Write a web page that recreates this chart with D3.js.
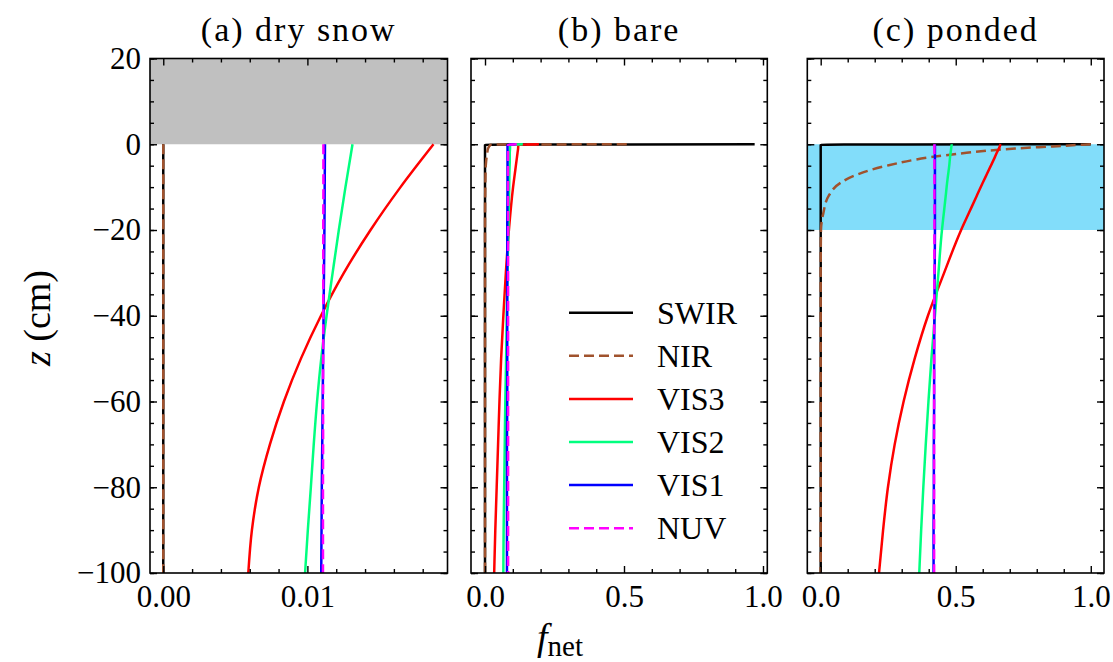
<!DOCTYPE html>
<html>
<head>
<meta charset="utf-8">
<script src="https://cdn.jsdelivr.net/npm/d3@7"></script>
<style>
  body { margin: 0; background: #fff; }
</style>
</head>
<body>
<div id="chart"></div>
<script>
// 1: DATA (depth z in cm, f_net per band)
const bands = ["SWIR", "NIR", "VIS3", "VIS2", "VIS1", "NUV"];

// (a) dry snow
const depthA = [0, -10, -20, -30, -40, -50, -60, -70, -80, -90, -100];
const swirA = [0, 0, 0, 0, 0, 0, 0, 0, 0, 0, 0];
const nirA  = [0, 0, 0, 0, 0, 0, 0, 0, 0, 0, 0];
const vis3A = [0.01875, 0.01646, 0.01438, 0.01253, 0.01094, 0.00955, 0.00837, 0.0074, 0.00663, 0.00615, 0.0059];
const vis2A = [0.01313, 0.01264, 0.01218, 0.01175, 0.01133, 0.01096, 0.01067, 0.01044, 0.01024, 0.01003, 0.00984];
const vis1A = [0.01122, 0.0112, 0.01118, 0.01115, 0.01112, 0.01109, 0.01106, 0.01103, 0.011, 0.01098, 0.01096];
const nuvA  = [0.01111, 0.01111, 0.0111, 0.0111, 0.0111, 0.01109, 0.01109, 0.01109, 0.01108, 0.01108, 0.01108];

// (b) bare
const depthB = [0, -0.1, -1, -2, -4, -6, -10, -20, -30, -40, -50, -60, -70, -80, -90, -100];
const swirB = [0.97, 0, 0, 0, 0, 0, 0, 0, 0, 0, 0, 0, 0, 0, 0, 0];
const nirB  = [0.51, 0.02, 0.011, 0.008, 0.004, 0.002, 0.001, 0, 0, 0, 0, 0, 0, 0, 0, 0];
const vis3B = [0.194, 0.12, 0.119, 0.117, 0.113, 0.109, 0.101, 0.086, 0.075, 0.066, 0.058, 0.052, 0.047, 0.042, 0.037, 0.033];
const vis2B = [0.136, 0.09, 0.09, 0.089, 0.089, 0.088, 0.087, 0.084, 0.081, 0.078, 0.076, 0.073, 0.071, 0.069, 0.067, 0.066];
const vis1B = [0.11, 0.081, 0.081, 0.081, 0.081, 0.081, 0.081, 0.08, 0.08, 0.08, 0.08, 0.08, 0.079, 0.079, 0.079, 0.079];
const nuvB  = [0.114, 0.083, 0.083, 0.083, 0.083, 0.083, 0.083, 0.083, 0.083, 0.083, 0.083, 0.083, 0.083, 0.083, 0.083, 0.083];

// (c) ponded
const depthC = [0, -0.1, -0.5, -1, -2, -3, -5, -7, -9, -12, -16, -20, -30, -40, -50, -60, -70, -80, -90, -100];
const swirC = [1.0, 0, 0, 0, 0, 0, 0, 0, 0, 0, 0, 0, 0, 0, 0, 0, 0, 0, 0, 0];
const nirC  = [1.0, 0.97, 0.86, 0.72, 0.54, 0.41, 0.245, 0.138, 0.073, 0.03, 0.01, 0.001, 0, 0, 0, 0, 0, 0, 0, 0];
const vis3C = [0.667, 0.666, 0.663, 0.66, 0.652, 0.645, 0.63, 0.615, 0.6, 0.578, 0.549, 0.52, 0.457, 0.397, 0.348, 0.307, 0.274, 0.249, 0.231, 0.216];
const vis2C = [0.485, 0.485, 0.484, 0.483, 0.481, 0.479, 0.476, 0.472, 0.468, 0.463, 0.456, 0.449, 0.436, 0.423, 0.41, 0.399, 0.389, 0.38, 0.372, 0.365];
const vis1C = [0.423, 0.423, 0.423, 0.423, 0.423, 0.423, 0.423, 0.423, 0.423, 0.423, 0.423, 0.423, 0.422, 0.421, 0.42, 0.42, 0.419, 0.419, 0.418, 0.418];
const nuvC  = [0.421, 0.421, 0.421, 0.421, 0.421, 0.421, 0.421, 0.421, 0.421, 0.421, 0.421, 0.421, 0.421, 0.42, 0.42, 0.42, 0.42, 0.42, 0.42, 0.42];

// ticks
const yTicks = [20, 0, -20, -40, -60, -80, -100];
const yMinor = d3.range(-100, 21, 5);
const xTicksA = [0, 0.01];
const xTickLabelsA = ["0.00", "0.01"];
const xMinorA = [0.002, 0.004, 0.006, 0.008, 0.012, 0.014, 0.016, 0.018];
const xTicksBC = [0, 0.5, 1.0];
const xTickLabelsBC = ["0.0", "0.5", "1.0"];
const xMinorBC = [0.1, 0.2, 0.3, 0.4, 0.6, 0.7, 0.8, 0.9];

// 2: STYLE
const FONT = '"Liberation Serif", "Times New Roman", serif';
const styles = {
  SWIR: { color: "#000000", dash: null },
  NIR:  { color: "#a0522d", dash: "10,5" },
  VIS3: { color: "#ff0000", dash: null },
  VIS2: { color: "#00ff7f", dash: null },
  VIS1: { color: "#0000ff", dash: null },
  NUV:  { color: "#ff00ff", dash: "10,5" }
};

const W = 1113, H = 662;
const plotTop = 58.5, plotBottom = 573;

const panels = [
  { title: "(a) dry snow", left: 150, right: 447.5, domain: [-0.00092, 0.01972],
    ticks: xTicksA, labels: xTickLabelsA, minor: xMinorA, depth: depthA,
    series: [swirA, nirA, vis3A, vis2A, vis1A, nuvA], fill: { from: 0, to: 20, color: "#c0c0c0" } },
  { title: "(b) bare", left: 471, right: 767.3, domain: [-0.0504, 1.0155],
    ticks: xTicksBC, labels: xTickLabelsBC, minor: xMinorBC, depth: depthB,
    series: [swirB, nirB, vis3B, vis2B, vis1B, nuvB], fill: null },
  { title: "(c) ponded", left: 807.3, right: 1104, domain: [-0.0496, 1.049],
    ticks: xTicksBC, labels: xTickLabelsBC, minor: xMinorBC, depth: depthC,
    series: [swirC, nirC, vis3C, vis2C, vis1C, nuvC], fill: { from: -20, to: 0, color: "#82ddfa" } }
];

const svg = d3.select("#chart").append("svg")
  .attr("width", W).attr("height", H);

const y = d3.scaleLinear().domain([-100, 20]).range([plotBottom, plotTop]);
const fmtY = d => d < 0 ? "\u2212" + Math.abs(d) : String(d);

panels.forEach((p, pi) => {
  const x = d3.scaleLinear().domain(p.domain).range([p.left, p.right]);
  const g = svg.append("g");

  const clipId = "clip" + pi;
  svg.append("clipPath").attr("id", clipId).append("rect")
    .attr("x", p.left).attr("y", plotTop)
    .attr("width", p.right - p.left).attr("height", plotBottom - plotTop);

  const plot = g.append("g").attr("clip-path", `url(#${clipId})`);

  // shaded layer (air above snow / melt pond)
  if (p.fill) {
    plot.append("rect")
      .attr("x", p.left).attr("width", p.right - p.left)
      .attr("y", y(p.fill.to)).attr("height", y(p.fill.from) - y(p.fill.to))
      .attr("fill", p.fill.color);
  }

  // profiles
  const line = d3.line()
    .x(d => x(d.f))
    .y(d => y(d.z))
    .curve(d3.curveMonotoneY);

  bands.forEach((b, i) => {
    const pts = p.depth.map((z, k) => ({ z: z, f: p.series[i][k] }));
    plot.append("path")
      .datum(pts)
      .attr("d", line)
      .attr("fill", "none")
      .attr("stroke", styles[b].color)
      .attr("stroke-width", 2.5)
      .attr("stroke-dasharray", styles[b].dash);
  });

  // axes, ticks pointing in on every side
  g.append("g").attr("transform", `translate(0,${plotBottom})`)
    .call(d3.axisBottom(x).tickValues(p.ticks).tickFormat((d, i) => p.labels[i])
      .tickSizeInner(-7).tickSizeOuter(0).tickPadding(12));
  g.append("g").attr("transform", `translate(0,${plotBottom})`)
    .call(d3.axisBottom(x).tickValues(p.minor).tickFormat("").tickSizeInner(-4).tickSizeOuter(0));
  g.append("g").attr("transform", `translate(0,${plotTop})`)
    .call(d3.axisTop(x).tickValues(p.ticks).tickFormat("").tickSizeInner(-7).tickSizeOuter(0));
  g.append("g").attr("transform", `translate(0,${plotTop})`)
    .call(d3.axisTop(x).tickValues(p.minor).tickFormat("").tickSizeInner(-4).tickSizeOuter(0));

  g.append("g").attr("transform", `translate(${p.left},0)`)
    .call(d3.axisLeft(y).tickValues(yTicks).tickFormat(pi === 0 ? fmtY : "")
      .tickSizeInner(-7).tickSizeOuter(0).tickPadding(9));
  g.append("g").attr("transform", `translate(${p.left},0)`)
    .call(d3.axisLeft(y).tickValues(yMinor).tickFormat("").tickSizeInner(-4).tickSizeOuter(0));
  g.append("g").attr("transform", `translate(${p.right},0)`)
    .call(d3.axisRight(y).tickValues(yTicks).tickFormat("").tickSizeInner(-7).tickSizeOuter(0));
  g.append("g").attr("transform", `translate(${p.right},0)`)
    .call(d3.axisRight(y).tickValues(yMinor).tickFormat("").tickSizeInner(-4).tickSizeOuter(0));

  g.selectAll(".domain").remove();
  g.selectAll(".tick line").attr("stroke", "#000").attr("stroke-width", 1.4);
  g.selectAll(".tick text").attr("font-size", 31).attr("fill", "#000");

  // frame
  g.append("rect")
    .attr("x", p.left).attr("y", plotTop)
    .attr("width", p.right - p.left).attr("height", plotBottom - plotTop)
    .attr("fill", "none").attr("stroke", "#000").attr("stroke-width", 1.6);

  // title
  g.append("text")
    .attr("x", (p.left + p.right) / 2).attr("y", 41)
    .attr("text-anchor", "middle")
    .attr("font-size", 34)
    .attr("letter-spacing", 2)
    .text(p.title);
});

// legend in panel (b)
const legend = svg.append("g");
bands.forEach((b, i) => {
  const ly = 312.7 + i * 43.1;
  legend.append("line")
    .attr("x1", 569).attr("x2", 633).attr("y1", ly).attr("y2", ly)
    .attr("stroke", styles[b].color).attr("stroke-width", 2.5)
    .attr("stroke-dasharray", styles[b].dash);
  legend.append("text")
    .attr("x", 657).attr("y", ly).attr("dy", "0.35em")
    .attr("font-size", 32)
    .text(b);
});

// axis labels
const yl = svg.append("text")
  .attr("transform", "translate(50,318) rotate(-90)")
  .attr("text-anchor", "middle")
  .attr("font-size", 38);
yl.append("tspan").attr("font-style", "italic").text("z");
yl.append("tspan").text(" (cm)");

const xl = svg.append("text")
  .attr("x", 560).attr("y", 650)
  .attr("text-anchor", "middle")
  .attr("font-size", 38);
xl.append("tspan").attr("font-style", "italic").text("f");
xl.append("tspan").attr("font-size", 29).attr("dy", 6).text("net");

// font must be set inline: the axis groups carry their own font attribute
svg.selectAll("text").style("font-family", FONT).style("fill", "#000");
</script>
</body>
</html>
